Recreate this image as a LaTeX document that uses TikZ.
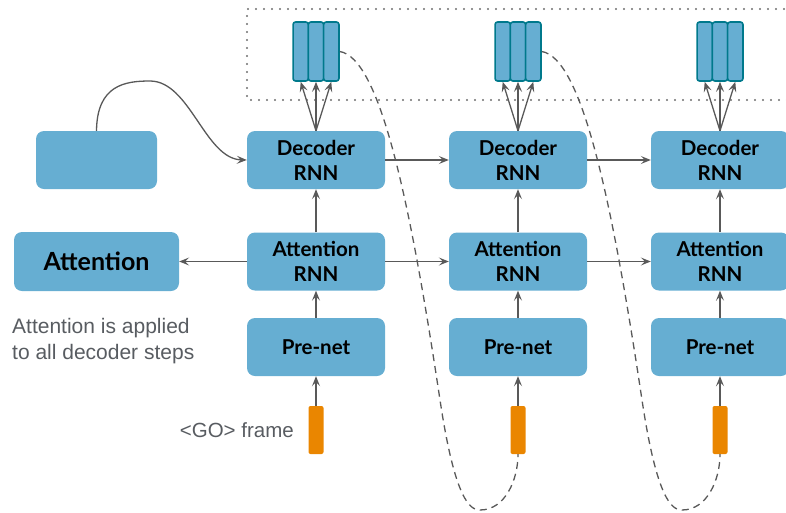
\documentclass[tikz,border=0pt]{standalone}
\usepackage{fontspec}
\setmainfont{Lato}
\newfontfamily\notefont{Liberation Sans}
\usetikzlibrary{arrows.meta}
\definecolor{boxblue}{HTML}{66AED2}
\definecolor{stripedge}{HTML}{00798C}
\definecolor{goorange}{HTML}{EA8600}
\definecolor{wire}{HTML}{595959}
\definecolor{note}{HTML}{585C61}
\definecolor{frameline}{HTML}{6E6E6E}
\begin{document}
\begin{tikzpicture}[x=1pt,y=-1pt,
  block/.style={fill=boxblue, rounded corners=8pt, minimum width=138pt, minimum height=58pt,
    inner sep=0pt, align=center, text=black, font=\fontsize{20.5}{25}\selectfont\bfseries},
  strip/.style={fill=boxblue, draw=stripedge, line width=1.6pt, rounded corners=2.5pt,
    minimum width=15.3pt, minimum height=59pt, inner sep=0pt},
  gobar/.style={fill=goorange, rounded corners=2pt, minimum width=15pt, minimum height=48pt, inner sep=0pt},
  link/.style={draw=wire, line width=1.3pt, -{Stealth[length=10pt,width=8pt,inset=4pt]}},
  feedback/.style={draw=wire, line width=1.3pt, dash pattern=on 7pt off 5pt},
  notetext/.style={text=note, font=\notefont\fontsize{21}{26}\selectfont, align=left, inner sep=0pt}
]
\useasboundingbox (0,0) rectangle (786,512);

% dotted frame around the output frames
\draw[frameline, line width=2.4pt, line cap=round, dash pattern=on 0pt off 8pt]
  (792,9) -- (247,9) -- (247,100) -- (792,100);

% decoder steps
\foreach \i/\x in {1/316,2/518,3/720}{
  \node[block] (dec\i) at (\x,160) {Decoder\\RNN};
  \node[block] (att\i) at (\x,261.5) {Attention\\RNN};
  \node[block] (pre\i) at (\x,347) {Pre-net};
  \node[gobar] (go\i) at (\x,430) {};
  \node[strip] (s\i a) at (\x-15.3,51.5) {};
  \node[strip] (s\i b) at (\x,51.5) {};
  \node[strip] (s\i c) at (\x+15.3,51.5) {};
  \draw[link] (go\i.north) -- (pre\i.south);
  \draw[link] (pre\i.north) -- (att\i.south);
  \draw[link] (att\i.north) -- (dec\i.south);
  \draw[link] (dec\i.north) -- (s\i a.south);
  \draw[link] (dec\i.north) -- (s\i b.south);
  \draw[link] (dec\i.north) -- (s\i c.south);
}

% memory and attention blocks
\node[block, minimum width=121pt] (mem) at (96.5,160) {};
\node[block, minimum width=165pt, minimum height=59pt, font=\fontsize{25}{30}\selectfont\bfseries] (attn) at (96.5,261.5) {Attention};

% recurrent connections
\draw[link] (dec1.east) -- (dec2.west);
\draw[link] (dec2.east) -- (dec3.west);
\draw[link] (att1.east) -- (att2.west);
\draw[link] (att2.east) -- (att3.west);
\draw[link] (att1.west) -- (attn.east);
\draw[link] (mem.north) .. controls (97,85) and (125,81) .. (150,81)
  .. controls (190,81) and (205,159) .. (dec1.west);

% outputs fed back as the next input frame
\draw[feedback] (s1c.east) .. controls (380,58) and (410,200) .. (440,400)
  .. controls (455,500) and (470,510) .. (480,510)
  .. controls (505,510) and (518,480) .. (go2.south);
\draw[feedback] (s2c.east) .. controls (582,58) and (612,200) .. (642,400)
  .. controls (657,500) and (672,510) .. (682,510)
  .. controls (707,510) and (720,480) .. (go3.south);

% labels
\node[notetext, anchor=north west] (note) at (12,318) {Attention is applied\\to all decoder steps};
\node[text=note, font=\notefont\fontsize{20.5}{22}\selectfont, anchor=east, inner sep=0pt] (golabel) at (294,430) {<GO> frame};
\end{tikzpicture}
\end{document}
